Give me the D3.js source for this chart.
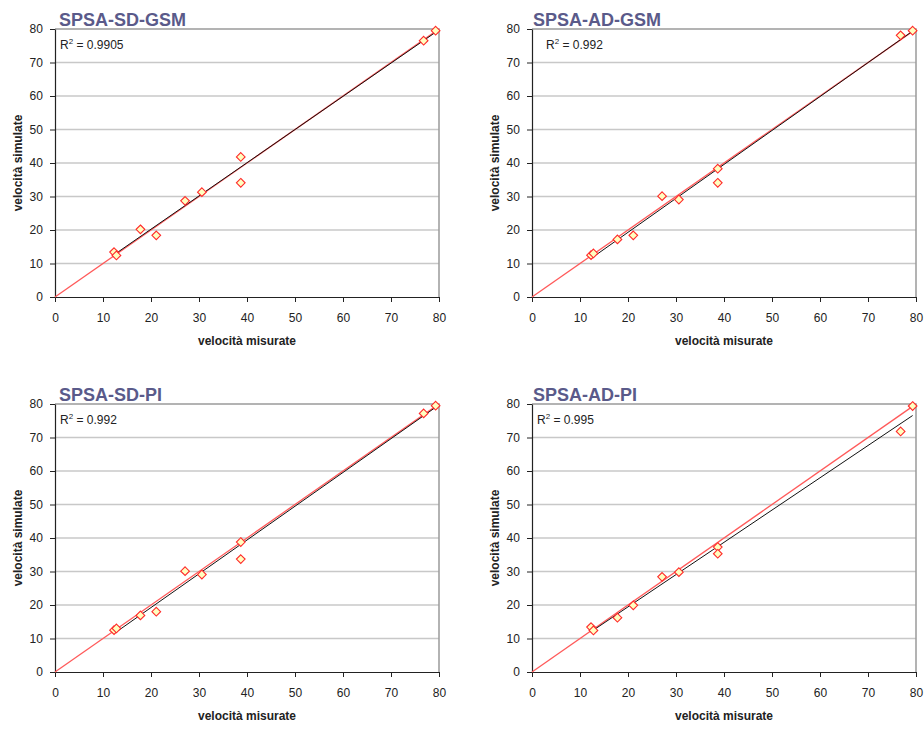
<!DOCTYPE html>
<html>
<head>
<meta charset="utf-8">
<script src="https://cdn.jsdelivr.net/npm/d3@7"></script>
<style>
  body { margin: 0; background: #fff; }
  svg { font-family: Arial, "Liberation Sans", sans-serif; }
</style>
</head>
<body>
<svg id="chart" width="924" height="729"></svg>
<script>
// measured speeds (shared by all four panels)
var misurate = [12.3, 12.8, 17.8, 21.1, 27.1, 30.6, 38.7, 38.7, 76.8, 79.3];

// simulated speeds, one list per calibration method
var sdGsm = [13.4, 12.4, 20.2, 18.4, 28.7, 31.3, 41.8, 34.1, 76.5, 79.5];
var adGsm = [12.5, 13.0, 17.2, 18.4, 30.1, 29.1, 38.3, 34.1, 78.1, 79.5];
var sdPi  = [12.5, 13.0, 16.9, 18.0, 30.1, 29.1, 38.8, 33.7, 77.2, 79.5];
var adPi  = [13.4, 12.4, 16.2, 19.9, 28.4, 29.8, 37.3, 35.3, 71.8, 79.4];

var titles = ["SPSA-SD-GSM", "SPSA-AD-GSM", "SPSA-SD-PI", "SPSA-AD-PI"];
var r2labels = ["0.9905", "0.992", "0.992", "0.995"];
var ticks = [0, 10, 20, 30, 40, 50, 60, 70, 80];

var series = [sdGsm, adGsm, sdPi, adPi];

// panel layout (plot area origin)
var boxes = [
  {x: 55, y: 29, r2dx: 5},
  {x: 532, y: 29, r2dx: 14},
  {x: 55, y: 404, r2dx: 5},
  {x: 532, y: 404, r2dx: 5}
];
var W = 384, H = 268;

var svg = d3.select("#chart");

// least squares line like Excel's linear trendline
function fit(xs, ys) {
  var mx = d3.mean(xs), my = d3.mean(ys);
  var sxy = d3.sum(xs, function(d, i) { return (d - mx) * (ys[i] - my); });
  var sxx = d3.sum(xs, function(d) { return (d - mx) * (d - mx); });
  var b = sxy / sxx;
  return {b: b, a: my - b * mx};
}

series.forEach(function(ys, k) {
  var bx = boxes[k];
  var g = svg.append("g").attr("transform", "translate(" + bx.x + "," + bx.y + ")");

  var x = d3.scaleLinear().domain([0, 80]).range([0, W]);
  var y = d3.scaleLinear().domain([0, 80]).range([H, 0]);

  // gridlines
  g.selectAll(".grid").data(ticks.slice(1, -1)).enter().append("line")
    .attr("x1", 0).attr("x2", W)
    .attr("y1", function(d) { return y(d); }).attr("y2", function(d) { return y(d); })
    .attr("stroke", "#c8c8c8").attr("stroke-width", 1.5);

  // plot border (top/right gray)
  g.append("path").attr("d", "M0,0H" + W + "V" + H)
    .attr("fill", "none").attr("stroke", "#9a9a9a").attr("stroke-width", 1.5);

  // axes
  var xa = g.append("g").attr("transform", "translate(0," + H + ")")
    .call(d3.axisBottom(x).tickValues(ticks).tickSize(5).tickSizeOuter(0));
  var ya = g.append("g")
    .call(d3.axisLeft(y).tickValues(ticks).tickSize(5).tickSizeOuter(0));
  [xa, ya].forEach(function(a) {
    a.select(".domain").attr("stroke", "#222").attr("stroke-width", 1.2);
    a.selectAll(".tick line").attr("stroke", "#222");
    a.selectAll("text").attr("font-size", 12).attr("fill", "#222")
      .attr("font-family", "Arial, 'Liberation Sans', sans-serif");
  });
  xa.selectAll("text").attr("dy", "1.45em");
  ya.selectAll("text").attr("dx", "-0.35em");

  // ideal line y = x
  var xmin = d3.min(misurate), xmax = d3.max(misurate);
  g.append("line")
    .attr("x1", x(0)).attr("y1", y(0)).attr("x2", x(xmax)).attr("y2", y(xmax))
    .attr("stroke", "#ff5a5a").attr("stroke-width", 1.3);

  // trendline
  var f = fit(misurate, ys);
  g.append("line")
    .attr("x1", x(xmin)).attr("y1", y(f.a + f.b * xmin))
    .attr("x2", x(xmax)).attr("y2", y(f.a + f.b * xmax))
    .attr("stroke", "#111").attr("stroke-width", 1);

  // points
  var sym = d3.symbol().type(d3.symbolDiamond2).size(48);
  g.selectAll(".pt").data(misurate).enter().append("path")
    .attr("d", sym)
    .attr("transform", function(d, i) { return "translate(" + x(d) + "," + y(ys[i]) + ")"; })
    .attr("fill", "#ffffc0").attr("stroke", "#ff2a2a").attr("stroke-width", 1.1);

  // title
  g.append("text").attr("x", k % 2 ? 1 : 4).attr("y", -3)
    .attr("font-size", 18).attr("font-weight", "bold").attr("fill", "#5a5a8a")
    .text(titles[k]);

  // R² label
  var rt = g.append("text").attr("x", bx.r2dx).attr("y", 20)
    .attr("font-size", 12).attr("fill", "#222");
  rt.append("tspan").text("R");
  rt.append("tspan").attr("dy", -5).attr("font-size", 8).text("2");
  rt.append("tspan").attr("dy", 5).text(" = " + r2labels[k]);

  // axis titles
  g.append("text").attr("x", W / 2).attr("y", H + 48)
    .attr("text-anchor", "middle").attr("font-size", 12).attr("font-weight", "bold")
    .attr("fill", "#222").text("velocità misurate");
  g.append("text")
    .attr("transform", "translate(-33," + (H / 2) + ") rotate(-90)")
    .attr("text-anchor", "middle").attr("font-size", 12).attr("font-weight", "bold")
    .attr("fill", "#222").text("velocità simulate");
});
</script>
</body>
</html>
